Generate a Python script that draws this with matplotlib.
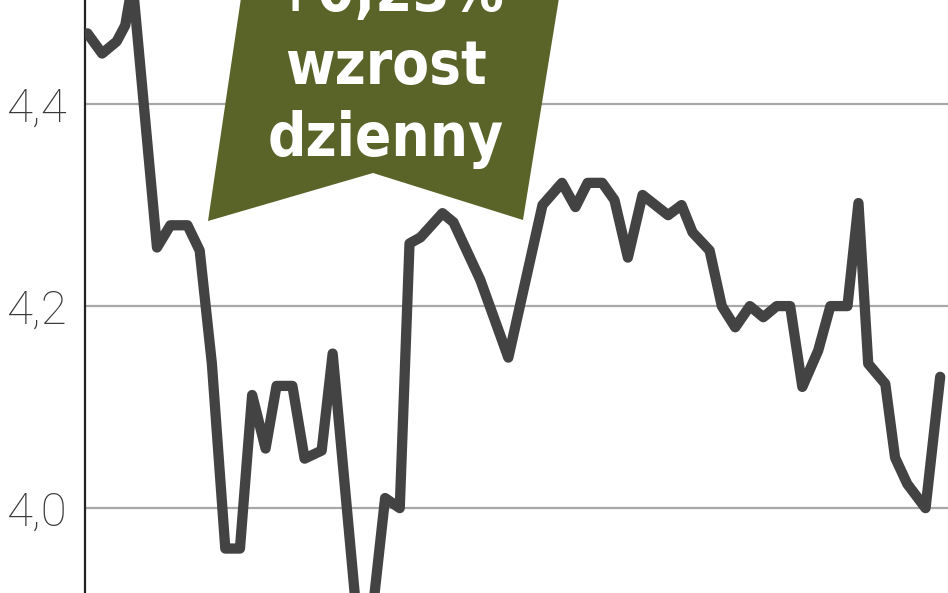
import matplotlib
matplotlib.use("Agg")
import matplotlib.pyplot as plt
from matplotlib.patches import Polygon
from matplotlib import font_manager

# sessions (trading day position) and closing price
sessions = [0.2, 1.4, 2.6, 3.3, 3.9, 5.9, 7.0, 8.4, 9.4, 10.4, 11.5, 12.7,
            13.7, 14.8, 15.7, 17.0, 18.0, 19.4, 20.3, 22.3, 23.5, 24.6,
            25.8, 26.6, 27.5, 29.3, 30.2, 32.4, 34.7, 37.5, 39.1, 40.2,
            41.2, 42.4, 43.4, 44.5, 45.7, 47.8, 48.9, 49.8, 51.2, 52.2,
            53.3, 54.5, 55.6, 56.7, 57.8, 58.8, 60.1, 61.1, 62.5, 63.4,
            64.2, 65.6, 66.4, 67.4, 68.9, 70.1]
price = [4.470, 4.450, 4.462, 4.478, 4.52, 4.258, 4.280, 4.280, 4.255, 4.143,
         3.960, 3.960, 4.112, 4.059, 4.121, 4.121, 4.049, 4.057, 4.153, 3.89,
         3.89, 4.010, 4.000, 4.262, 4.268, 4.292, 4.283, 4.226, 4.149, 4.300,
         4.322, 4.298, 4.322, 4.322, 4.305, 4.248, 4.310, 4.290, 4.300, 4.273,
         4.255, 4.200, 4.179, 4.200, 4.189, 4.200, 4.200, 4.120, 4.156, 4.200,
         4.200, 4.302, 4.143, 4.123, 4.050, 4.024, 4.000, 4.130]

yticks = [4.0, 4.2, 4.4]
ytick_labels = ["4,0", "4,2", "4,4"]

badge_lines = ["+0,23%", "wzrost", "dzienny"]

fonts = font_manager.fontManager.ttflist
have = {f.name for f in fonts}
condensed = any(f.name == "DejaVu Sans" and "ondensed" in str(f.stretch)
                and f.weight in (700, "bold") for f in fonts)
if condensed:
    bstyle = dict(family="DejaVu Sans", fontstretch="condensed", fontsize=43)
else:
    bstyle = dict(family="Liberation Sans" if "Liberation Sans" in have else "DejaVu Sans",
                  fontsize=45)

W, H = 948, 593
fig = plt.figure(figsize=(W / 100, H / 100), dpi=100)
ax = fig.add_axes([85 / W, 0, 1 - 85 / W, 1])

ax.set_xlim(0, 70.74)
ax.set_ylim(3.916, 4.503)

for v in yticks:
    ax.axhline(v, color="#a8a8a8", lw=1.6, zorder=1)

ax.plot(sessions, price, color="#434343", lw=7.4, solid_joinstyle="round",
        solid_capstyle="round", zorder=3)

lfam = [n for n in ["Roboto", "Lato", "Open Sans"] if n in have] + ["DejaVu Sans"]
ax.set_yticks(yticks)
ax.set_yticklabels(ytick_labels, fontsize=34, color="#3a3a3a",
                   family=lfam, fontweight="light")
ax.tick_params(axis="y", length=0, pad=13)
ax.set_xticks([])
for s in ["top", "right", "bottom"]:
    ax.spines[s].set_visible(False)
ax.spines["left"].set_linewidth(1.6)
ax.spines["left"].set_color("#222222")


def fx(px):
    return (px - 85) / (W - 85)


def fy(py):
    return 1 - py / H


badge = Polygon([(fx(241), fy(-2)), (fx(559), fy(-2)), (fx(523), fy(220)),
                 (fx(373), fy(173)), (fx(208), fy(221))],
                closed=True, transform=ax.transAxes, facecolor="#5b6428",
                edgecolor="none", zorder=4, clip_on=False)
ax.add_patch(badge)

for txt, px, py in zip(badge_lines, [388, 386, 386], [11, 84, 156]):
    ax.text(fx(px), fy(py), txt, transform=ax.transAxes, ha="center",
            va="baseline", color="white", fontweight="bold", zorder=5, **bstyle)

fig.savefig("out.png", dpi=100)
